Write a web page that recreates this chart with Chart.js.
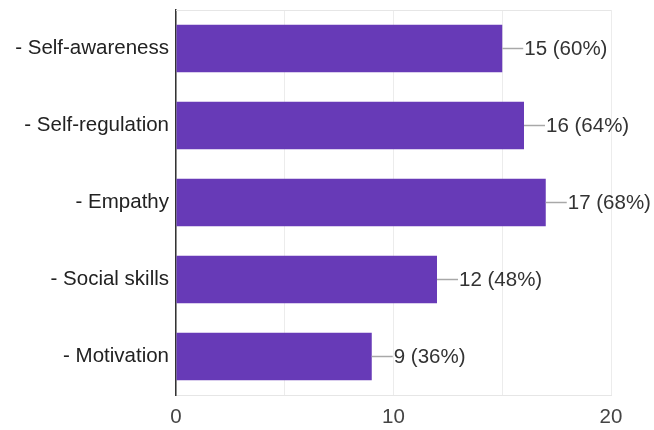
<!DOCTYPE html>
<html>
<head>
<meta charset="utf-8">
<script src="https://cdn.jsdelivr.net/npm/chart.js@4"></script>
<style>
  html, body { margin: 0; padding: 0; background: #fff; }
  #wrap { width: 654px; height: 430px; }
</style>
</head>
<body>
<div id="wrap"><canvas id="skillsChart" width="654" height="430"></canvas></div>
<script>
const categories = ["- Self-awareness", "- Self-regulation", "- Empathy", "- Social skills", "- Motivation"];
const counts = [15, 16, 17, 12, 9];
const percents = [60, 64, 68, 48, 36];
const tickLabels = [0, 10, 20];

const FONT = "'Liberation Sans', Arial, sans-serif";
const FSIZE = 20.5;

// light frame round the plot + leader lines and value labels
const framePlugin = {
  id: "frame",
  beforeDatasetsDraw(chart) {
    const { ctx, chartArea: a } = chart;
    ctx.save();
    ctx.strokeStyle = "#e6e6e6";
    ctx.lineWidth = 1;
    ctx.beginPath();
    ctx.moveTo(a.left, a.top + 0.5);
    ctx.lineTo(a.right, a.top + 0.5);
    ctx.stroke();
    ctx.restore();
  },
  afterDatasetsDraw(chart) {
    const { ctx } = chart;
    const meta = chart.getDatasetMeta(0);
    ctx.save();
    ctx.font = FSIZE + "px " + FONT;
    ctx.textBaseline = "middle";
    ctx.textAlign = "left";
    meta.data.forEach((bar, i) => {
      const x = bar.x, y = bar.y;
      ctx.strokeStyle = "#a8a8a8";
      ctx.lineWidth = 1.5;
      ctx.beginPath();
      ctx.moveTo(x, y);
      ctx.lineTo(x + 21, y);
      ctx.stroke();
      ctx.fillStyle = "#333";
      ctx.fillText(counts[i] + " (" + percents[i] + "%)", x + 22, y + 1);
    });
    ctx.restore();
  }
};

new Chart(document.getElementById("skillsChart").getContext("2d"), {
  type: "bar",
  data: {
    labels: categories,
    datasets: [{
      data: counts,
      backgroundColor: "#673ab7",
      categoryPercentage: 0.62,
      barPercentage: 1
    }]
  },
  options: {
    indexAxis: "y",
    responsive: false,
    animation: false,
    layout: { padding: { top: 10, right: 43, left: 0, bottom: 0 } },
    plugins: { legend: { display: false }, tooltip: { enabled: false } },
    scales: {
      x: {
        min: 0,
        max: 20,
        ticks: {
          stepSize: 5,
          autoSkip: false,
          maxRotation: 0,
          color: "#444",
          font: { family: FONT, size: FSIZE },
          padding: 10,
          callback: v => tickLabels.includes(v) ? v : ""
        },
        grid: { color: "#ececec", drawTicks: false },
        border: { display: true, color: "#e6e6e6" },
        afterFit: s => { s.height = 35; }
      },
      y: {
        ticks: {
          color: "#222",
          font: { family: FONT, size: FSIZE },
          padding: 7
        },
        grid: { display: false, drawTicks: false },
        border: { display: true, color: "#333", width: 1.5 },
        afterFit: s => { s.width = 176; s.paddingTop = 0; s.paddingBottom = 0; }
      }
    }
  },
  plugins: [framePlugin]
});
</script>
</body>
</html>
